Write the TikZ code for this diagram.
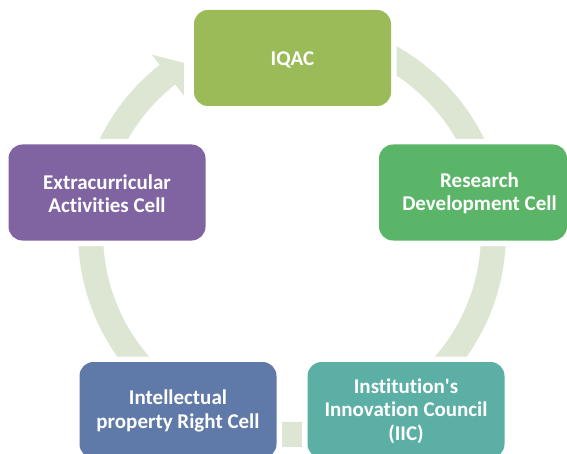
\documentclass[tikz,border=0pt]{standalone}
\usepackage{fontspec}
\setmainfont[Ligatures={NoCommon}]{Carlito}
\definecolor{ringc}{HTML}{DDE6D2}
\definecolor{cA}{HTML}{9BBB59}
\definecolor{cB}{HTML}{5BB568}
\definecolor{cC}{HTML}{5CAFA5}
\definecolor{cD}{HTML}{5F79A9}
\definecolor{cE}{HTML}{8064A2}
\tikzset{
  box/.style={rounded corners=14pt, minimum width=197pt, minimum height=96pt,
    inner sep=0pt, preaction={draw=white, line width=11pt}},
  lbl/.style={text=white, font=\bfseries\fontsize{21}{23.5}\selectfont, align=center, inner sep=0pt}
}
\begin{document}
\begin{tikzpicture}[x=1pt,y=1pt]
\useasboundingbox (0,0) rectangle (567,453);
\clip (0,0) rectangle (567,453);
\coordinate (c) at (292,220);
% ring arrow
\draw[ringc, line width=25pt] ([shift={(c)}]90:201.5pt) arc[start angle=90, end angle=-231.8, radius=201.5pt];
\fill[ringc] ([shift={(c)}]128.2:227pt) -- ([shift={(c)}]128.2:175pt) -- ([shift={(c)}]122.4:201.5pt) -- cycle;
% boxes
\node[box, fill=cA] (iqac) at (292.5,395) {};
\node[lbl] (tiqac) at (292.5,393.5) {IQAC};
\node[box, fill=cB, minimum width=188pt] (rdc) at (473,260.5) {};
\node[lbl] (trdc) at (479.5,259.5) {Research\\Development Cell};
\node[box, fill=cC] (iic) at (406,43) {};
\node[lbl] (tiic) at (406,42) {Institution\textquotesingle s\\Innovation Council\\(IIC)};
\node[box, fill=cD] (iprc) at (178,43) {};
\node[lbl] (tiprc) at (178,42) {Intellectual\\property Right Cell};
\node[box, fill=cE] (eac) at (107,260.5) {};
\node[lbl] (teac) at (107,259.5) {Extracurricular\\Activities Cell};
\end{tikzpicture}
\end{document}
